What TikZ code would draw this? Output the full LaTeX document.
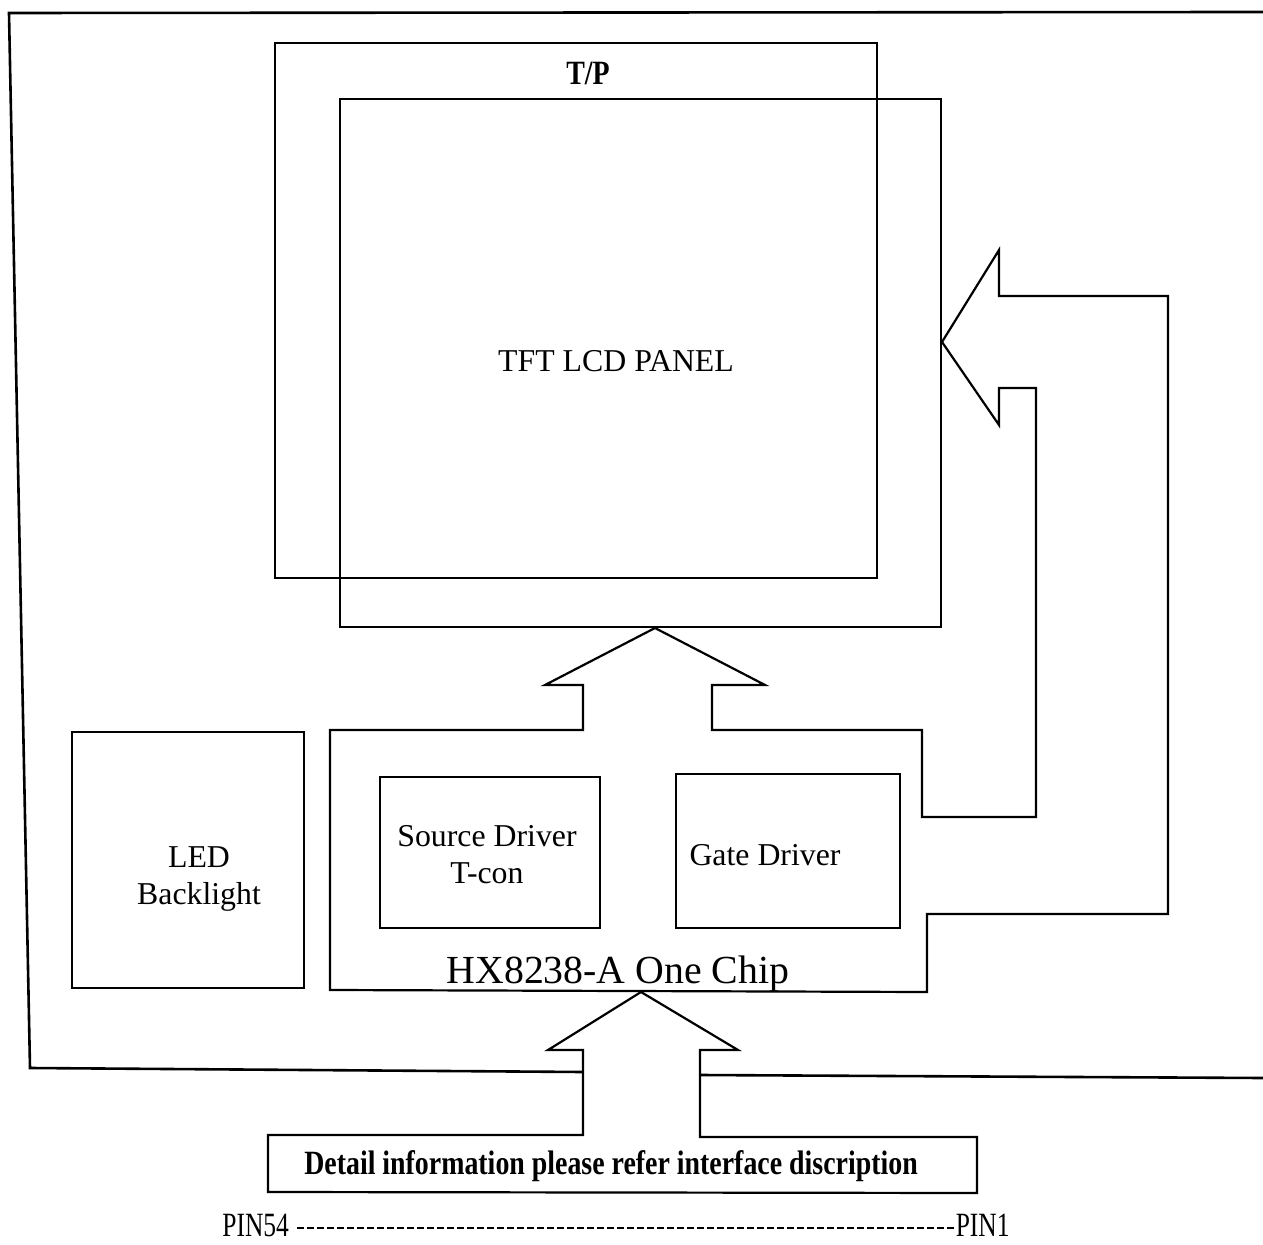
\documentclass[tikz,border=0pt]{standalone}
\usepackage{fontspec}
\setmainfont{Liberation Serif}
\newfontfamily\condbf{Liberation Serif}[FakeStretch=0.82]
\newfontfamily\condrm{Liberation Serif}[FakeStretch=0.75]
\begin{document}
\begin{tikzpicture}[x=0.5pt,y=-0.5pt,
  outl/.style={draw=black,line width=1.1pt,line join=miter},
  frameline/.style={draw=black,line width=1.3pt},
  lbl/.style={inner sep=0pt,align=center,font=\fontsize{15.9}{18.5}\selectfont},
  boldlbl/.style={inner sep=0pt,font=\condbf\bfseries\fontsize{17}{20}\selectfont},
  pinlbl/.style={inner sep=0pt,font=\condrm\fontsize{17}{20}\selectfont}]
\useasboundingbox (0,0) rectangle (1263,1245);
\fill[white] (0,0) rectangle (1263,1245);
% outer frame
\draw[frameline] (1263,12) -- (9,13) -- (30,1068) -- (583,1072);
\draw[frameline] (700,1075) -- (1263,1078);
% T/P and panel
\draw[outl] (275,43) rectangle (877,578);
\draw[outl] (340,99) rectangle (941,627);
\node[boldlbl] (tp) at (588,73) {T/P};
\node[lbl] (tft) at (616,361) {TFT LCD PANEL};
% chip outline with arrows
\draw[outl] (330,730) -- (583,730) -- (583,685) -- (545,685) -- (655,628)
  -- (765,685) -- (712,685) -- (712,730) -- (922,730) -- (922,817)
  -- (1036,817) -- (1036,388) -- (999,388) -- (999,425) -- (942,342)
  -- (999,250) -- (999,296) -- (1168,296) -- (1168,914) -- (927,914)
  -- (927,992) -- (330,990) -- cycle;
% inner boxes
\draw[outl] (72,732) rectangle (304,988);
\draw[outl] (380,777) rectangle (600,928);
\draw[outl] (676,774) rectangle (900,928);
\node[lbl] (led) at (199,879) {LED\\Backlight};
\node[lbl] (src) at (487,855) {Source Driver\\T-con};
\node[lbl] (gate) at (765,855) {Gate Driver};
\node[inner sep=0pt,anchor=base,font=\fontsize{19.9}{22}\selectfont] (chip) at (618,983) {HX8238-A One Chip};
% bottom arrow and interface box
\draw[outl] (268,1135) -- (583,1135) -- (583,1050) -- (548,1050) -- (641,992)
  -- (738,1050) -- (700,1050) -- (700,1137) -- (977,1137) -- (977,1193)
  -- (268,1192) -- cycle;
\node[boldlbl,anchor=base] (detail) at (611,1174) {Detail information please refer interface discription};
% pins
\node[pinlbl,anchor=base west] (pin54) at (222,1236) {PIN54};
\node[pinlbl,anchor=base east] (pin1) at (1010,1236) {PIN1};
\draw[line width=1.3pt,dash pattern=on 3.5pt off 1.5pt] ([xshift=4pt,yshift=4pt]pin54.base east) -- ([yshift=4pt]pin1.base west);
\end{tikzpicture}
\end{document}
